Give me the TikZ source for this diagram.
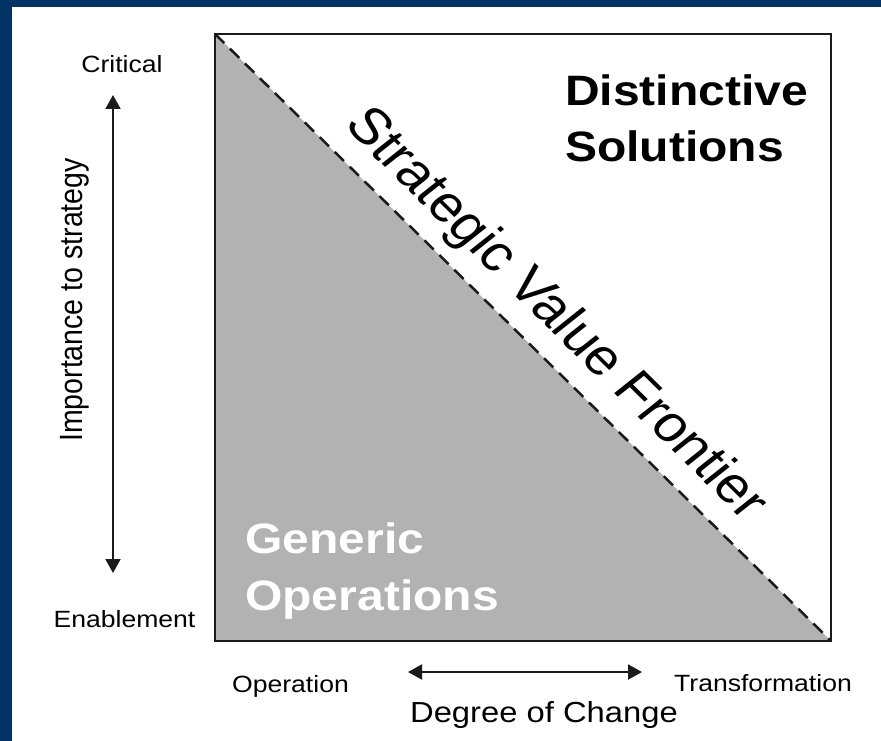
\documentclass[tikz,border=0pt]{standalone}
\usepackage{fontspec}
\setmainfont{Liberation Sans}
\usetikzlibrary{arrows.meta}
\definecolor{navy}{HTML}{003366}
\definecolor{fillgray}{HTML}{B2B2B2}
\definecolor{ink}{HTML}{1A1A1A}
\begin{document}
\begin{tikzpicture}[x=1pt,y=1pt,
  sx/.style={xscale=1.13, inner sep=0pt},
  small/.style={sx, font=\fontsize{23.5}{28}\selectfont},
  big/.style={sx, font=\fontsize{42.5}{57}\selectfont\bfseries, align=left},
  dbl/.style={line width=2pt, color=ink, {Triangle[width=15pt,length=14pt]}-{Triangle[width=15pt,length=14pt]}}]
\useasboundingbox (0,0) rectangle (881,-741);
\fill[navy] (0,0) rectangle (881,-741);
\fill[white] (12,-7) rectangle (881,-741);
% square
\coordinate (tl) at (215,-34);
\coordinate (tr) at (831,-34);
\coordinate (bl) at (215,-641);
\coordinate (br) at (831,-641);
\fill[fillgray] (tl) -- (bl) -- (br) -- cycle;
\draw[line width=2.5pt, color=ink, dash pattern=on 13pt off 8pt] (tl) -- (br);
\draw[line width=2.5pt, color=ink] (tl) rectangle (br);
% labels in square
\node[big, anchor=base west] (dist) at (565,-162) {Distinctive\\Solutions};
\node[big, text=white, anchor=base west] (gen) at (245,-610) {Generic\\Operations};
\node[sx, font=\fontsize{51}{57}\selectfont, rotate=-48.1] (svf) at (555,-315) {Strategic Value Frontier};
% vertical axis
\node[small, anchor=base] (crit) at (122,-73) {Critical};
\node[small, anchor=base] (enab) at (124.5,-627) {Enablement};
\node[sx, font=\fontsize{28.5}{34}\selectfont, rotate=90, anchor=base] (imp) at (82,-300) {Importance to strategy};
\coordinate (vt) at (113,-95);
\coordinate (vb) at (113,-573);
\draw[dbl] (vb) -- (vt);
% horizontal axis
\node[small, anchor=base] (oper) at (290.5,-692) {Operation};
\node[small, anchor=base] (trans) at (763,-691) {Transformation};
\node[sx, font=\fontsize{29}{34}\selectfont, anchor=base] (deg) at (544,-722) {Degree of Change};
\coordinate (hl) at (408,-672);
\coordinate (hr) at (642,-672);
\draw[dbl] (hl) -- (hr);
\end{tikzpicture}
\end{document}
